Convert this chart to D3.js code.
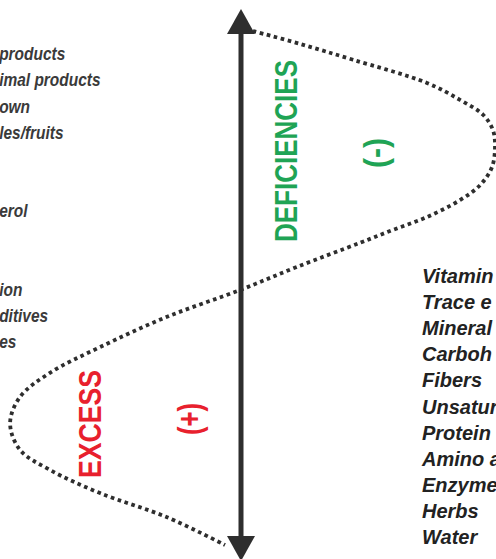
<!DOCTYPE html>
<html>
<head>
<meta charset="utf-8">
<script src="https://cdn.jsdelivr.net/npm/d3@7"></script>
<style>
  body { margin: 0; background: #fff; }
  svg { display: block; }
</style>
</head>
<body>
<div id="d3-container"></div>
<script>
// list on the left (cut off by the frame), empty rows kept as ""
const leftLabels = ["products", "imal products", "own", "les/fruits", "", "", "erol", "", "", "ion", "ditives", "es"];
// list on the right (cut off by the frame)
const rightLabels = ["Vitamin", "Trace e", "Mineral", "Carboh", "Fibers", "Unsatur", "Protein", "Amino a", "Enzyme", "Herbs", "Water"];

// dotted balance curve: position along the axis (0 top .. 100 bottom) and deviation (-100 excess .. 100 deficiency)
const curveT   = [0, 2.5, 5.6, 10.1, 13.4, 16.3, 19.3, 22.6, 26.5, 30, 32.9, 36.2, 38.7, 41.2, 45.9, 50.4, 55.6, 61.5, 66.5, 71.2, 76.3, 81.5, 85.4, 89.9, 94.6, 100];
const curveDev = [4.7, 23.2, 44.1, 73.2, 86.2, 95.3, 99.2, 100, 98.8, 94.1, 86.2, 73.2, 59.8, 46.9, 22, -0.4, -29.1, -55.5, -75.2, -87, -90.9, -87, -75.2, -55.5, -29.1, -6.3];

const width = 496;
const height = 559;
const axisX = 241;
const dark = "#2e2e2e";
const green = "#1fa455";
const red = "#e8202d";

const svg = d3.select("#d3-container")
    .append("svg")
    .attr("width", width)
    .attr("height", height)
    .attr("viewBox", [0, 0, width, height]);

const x = d3.scaleLinear()
    .domain([-100, 100])
    .range([axisX - 254, axisX + 254]);

const y = d3.scaleLinear()
    .domain([0, 100])
    .range([31, 545]);

// axis with two arrow heads
svg.append("line")
    .attr("x1", axisX).attr("x2", axisX)
    .attr("y1", 30).attr("y2", 540)
    .attr("stroke", dark)
    .attr("stroke-width", 5);

svg.append("path")
    .attr("d", `M${axisX},9 L${axisX + 14},34 L${axisX - 14},34 Z`)
    .attr("fill", dark);

svg.append("path")
    .attr("d", `M${axisX},561 L${axisX + 14},536 L${axisX - 14},536 Z`)
    .attr("fill", dark);

// dotted curve
const line = d3.line()
    .x((d, i) => x(curveDev[i]))
    .y(d => y(d))
    .curve(d3.curveCatmullRom.alpha(0.5));

svg.append("path")
    .datum(curveT)
    .attr("d", line)
    .attr("fill", "none")
    .attr("stroke", dark)
    .attr("stroke-width", 3.8)
    .attr("stroke-dasharray", "3.6 3.6");

// labels along the axis
function rotLabel(tx, ty, txt, color, size, len, weight) {
    svg.append("text")
        .attr("transform", `translate(${tx},${ty}) rotate(-90)`)
        .attr("text-anchor", "middle")
        .attr("font-family", "Liberation Sans, Arial, sans-serif")
        .attr("font-weight", weight || "bold")
        .attr("font-size", size)
        .attr("fill", color)
        .attr("textLength", len)
        .attr("lengthAdjust", "spacingAndGlyphs")
        .text(txt);
}

rotLabel(297, 151, "DEFICIENCIES", green, 32, 182);
rotLabel(101, 424, "EXCESS", red, 32, 108);
rotLabel(387, 153, "(-)", green, 34, 30, 600);
rotLabel(201, 419, "(+)", red, 34, 32, 600);

// left list
const yl = d3.scalePoint()
    .domain(d3.range(leftLabels.length))
    .range([54, 342]);

svg.append("g")
    .attr("transform", "scale(0.86,1)")
    .attr("font-family", "Liberation Sans, Arial, sans-serif")
    .attr("font-style", "italic")
    .attr("font-weight", "bold")
    .attr("font-size", 18)
    .attr("fill", "#3a3a3a")
    .selectAll("text")
    .data(leftLabels)
    .join("text")
    .attr("x", -1)
    .attr("y", (d, i) => yl(i))
    .attr("dy", "0.35em")
    .text(d => d);

// right list
const yr = d3.scalePoint()
    .domain(rightLabels)
    .range([276, 537]);

svg.append("g")
    .attr("font-family", "Liberation Sans, Arial, sans-serif")
    .attr("font-style", "italic")
    .attr("font-weight", "bold")
    .attr("font-size", 20)
    .attr("fill", "#222")
    .selectAll("text")
    .data(rightLabels)
    .join("text")
    .attr("x", 422)
    .attr("y", d => yr(d))
    .attr("dy", "0.35em")
    .text(d => d);
</script>
</body>
</html>
